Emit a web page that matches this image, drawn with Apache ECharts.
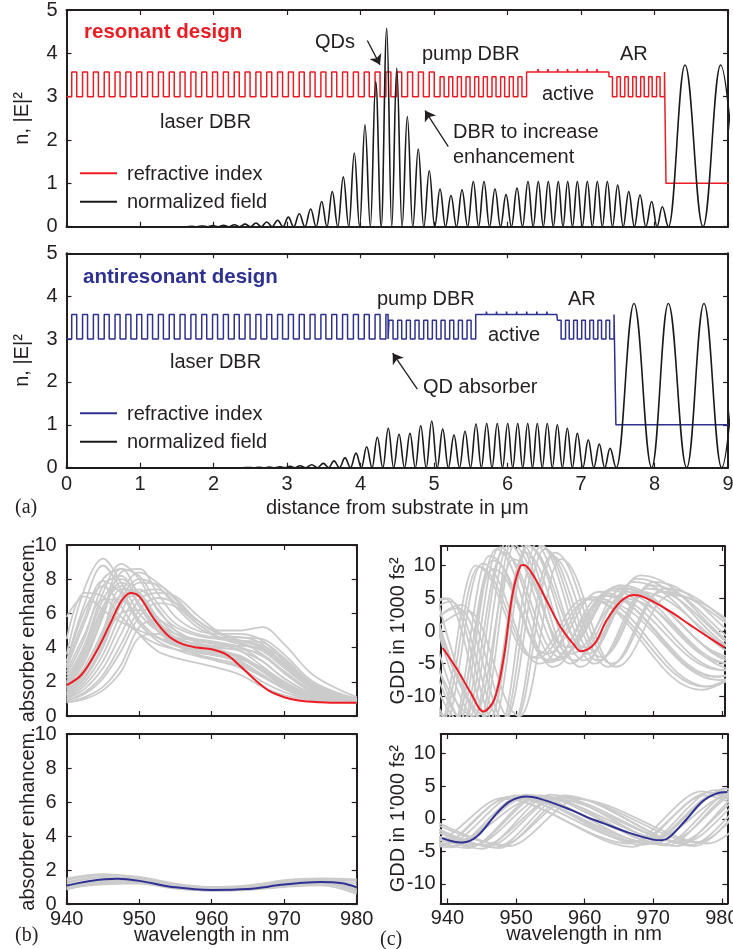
<!DOCTYPE html>
<html><head><meta charset="utf-8">
<script src="https://cdn.jsdelivr.net/npm/echarts@6/dist/echarts.min.js"></script>
<style>html,body{margin:0;padding:0;background:#fff}#c{width:733px;height:949px}</style>
</head><body><div id="c"></div><script>
// ---------------- (a) layer stacks: [repeat, [thickness in µm, refractive index], ...] ----------------
const resStack = [
  [1, [0.071, 3.00]],
  [34, [0.068, 3.57], [0.0794, 3.00]],
  [10, [0.055, 3.46], [0.0627, 3.00]],
  [1, [0.155, 3.57]],
  [7, [0.008, 3.64], [0.1255, 3.57]],
  [1, [0.031, 3.57]],
  [7, [0.048, 3.46], [0.060, 3.00]],
  [1, [0.020, 3.57]],
  [1, [1.500, 1.00]]
];
const antiStack = [
  [1, [0.071, 3.00]],
  [29, [0.068, 3.57], [0.0794, 3.00]],
  [1, [0.030, 3.57], [0.012, 3.00]],
  [10, [0.055, 3.44], [0.063, 3.00]],
  [1, [0.145, 3.57]],
  [7, [0.008, 3.64], [0.129, 3.57]],
  [1, [0.008, 3.57]],
  [7, [0.050, 3.44], [0.060, 3.00]],
  [1, [0.025, 3.57]],
  [1, [2.000, 1.00]]
];
// field |E|^2 : maxima and zeros
const resPeakX = [1.699,1.845,1.991,2.137,2.283,2.429,2.578,2.724,2.873,3.018,3.167,3.322,3.472,3.616,3.766,3.916,4.061,4.207,4.357,4.493,4.637,4.786,4.936,5.082,5.231,5.381,5.535,5.680,5.830,5.980,6.129,6.279,6.419,6.555,6.691,6.819,6.950,7.086,7.222,7.358,7.499,7.649,7.803,7.962,8.106,8.415,8.900];
const resPeakY = [0.012,0.017,0.024,0.033,0.045,0.06,0.085,0.11,0.15,0.22,0.30,0.41,0.58,0.81,1.15,1.70,2.35,3.35,4.58,3.66,2.54,1.79,1.29,0.87,0.72,0.85,1.04,1.04,0.87,0.74,0.89,1.04,1.04,1.04,1.04,1.04,1.04,1.04,1.04,1.04,0.96,0.81,0.73,0.58,0.46,3.73,3.73];
const resZeroX = [0,1.626,1.772,1.918,2.064,2.210,2.356,2.503,2.651,2.798,2.945,3.092,3.244,3.397,3.544,3.691,3.841,3.988,4.134,4.282,4.425,4.565,4.711,4.861,5.009,5.156,5.306,5.458,5.607,5.755,5.905,6.054,6.204,6.349,6.487,6.623,6.755,6.884,7.018,7.154,7.290,7.428,7.574,7.726,7.882,8.034,8.190,8.660,9.140];
const antiPeakX = [2.47,2.62,2.76,2.905,3.041,3.177,3.336,3.494,3.639,3.789,3.939,4.084,4.229,4.378,4.524,4.673,4.819,4.969,5.118,5.272,5.422,5.571,5.717,5.861,6.003,6.139,6.275,6.405,6.541,6.678,6.814,6.950,7.099,7.249,7.395,7.721,8.188,8.673,9.150];
const antiPeakY = [0.005,0.008,0.013,0.02,0.03,0.045,0.07,0.10,0.16,0.23,0.34,0.49,0.71,0.92,0.78,0.80,0.98,1.09,0.90,0.76,0.85,1.02,1.03,1.03,1.03,1.03,1.03,1.03,1.03,1.0,0.92,0.80,0.65,0.55,0.45,3.83,3.83,3.83,3.83];
const antiZeroX = [0,2.40,2.545,2.69,2.833,2.973,3.109,3.257,3.415,3.567,3.714,3.864,4.012,4.157,4.304,4.451,4.599,4.746,4.894,5.044,5.195,5.347,5.497,5.644,5.789,5.932,6.071,6.207,6.340,6.473,6.610,6.746,6.882,7.025,7.174,7.322,7.480,7.962,8.438,8.914];

// ---------------- (b) absorber enhancement ----------------
const absRedWl = [940,942,944,946,947.5,948.8,950,952,954,956,958,960,962,964,966,968,970,972,975,978,980];
const absRed   = [1.8,2.4,3.7,5.4,6.7,7.2,7.0,5.7,4.7,4.2,4.0,3.9,3.6,2.9,2.1,1.45,1.1,0.9,0.8,0.77,0.77];
const absGrayWl = [940,942.5,945,947.5,950,952.5,955,958,961,964,967,970,974,980];
const absGrayRes = [
  [5.8,7.0,6.2,5.5,5.0,4.6,4.3,4.1,3.9,3.4,2.6,1.8,1.1,0.85],
  [3.6,7.5,9.2,7.8,6.0,5.0,4.6,4.4,4.2,3.8,2.9,2.0,1.2,0.9],
  [2.8,5.5,8.0,8.6,7.0,5.5,4.8,4.5,4.3,4.0,3.2,2.2,1.3,0.9],
  [2.2,4.2,7.2,8.9,8.0,6.2,5.2,4.7,4.5,4.3,3.6,2.5,1.4,0.95],
  [1.6,3.2,5.8,8.4,8.6,7.2,5.8,5.0,4.8,4.8,4.4,3.2,1.8,1.0],
  [1.3,2.5,4.6,7.2,8.4,7.8,6.8,5.6,5.0,5.0,5.2,4.2,2.4,1.1],
  [1.1,2.0,3.6,6.0,7.8,7.7,6.9,5.6,4.8,4.6,4.5,3.6,2.0,1.0],
  [1.0,1.6,2.8,4.8,6.8,7.2,7.0,5.9,4.9,4.4,4.0,3.1,1.7,1.0],
  [0.9,1.3,2.2,3.8,5.8,6.6,6.4,5.4,4.6,4.2,3.8,2.8,1.6,0.95],
  [0.8,1.1,1.7,3.0,5.2,5.6,5.0,4.3,3.8,3.4,2.8,2.0,1.2,0.85],
  [0.8,1.0,1.5,2.6,4.6,4.8,4.2,3.6,3.2,2.9,2.3,1.6,1.0,0.8],
  [2.6,4.8,6.8,6.8,5.4,4.4,3.9,3.5,3.2,2.8,2.0,1.4,0.95,0.8],
  [3.0,6.2,7.6,6.4,4.8,3.8,3.4,3.1,2.8,2.4,1.7,1.2,0.9,0.8],
  [1.9,3.8,6.4,7.6,6.6,5.0,4.2,3.9,3.7,3.4,2.6,1.7,1.1,0.85],
  [1.5,2.9,5.0,7.4,7.2,5.6,4.4,3.8,3.5,3.3,2.8,1.9,1.1,0.85],
  [1.2,2.2,4.0,6.5,7.4,6.3,5.0,4.3,4.0,3.9,3.6,2.6,1.4,0.9],
  [2.4,4.6,7.6,8.2,6.4,5.0,4.4,4.0,3.8,3.5,2.7,1.8,1.1,0.85],
  [1.4,2.6,4.4,6.0,6.2,5.2,4.2,3.6,3.3,3.0,2.4,1.6,1.0,0.8],
  [4.5,7.2,7.0,5.8,4.8,4.2,3.9,3.7,3.5,3.1,2.3,1.6,1.0,0.85],
  [3.2,6.6,8.8,7.4,5.6,4.6,4.2,4.0,3.8,3.5,2.7,1.9,1.2,0.9],
  [2.0,4.0,6.8,8.0,7.2,5.6,4.6,4.2,4.1,4.0,3.5,2.6,1.5,0.95],
  [1.7,3.4,6.0,8.6,8.2,6.6,5.4,4.8,4.6,4.6,4.2,3.0,1.7,1.0],
  [1.2,2.3,4.2,6.8,8.0,7.6,6.4,5.2,4.6,4.4,4.3,3.4,1.9,1.0],
  [1.0,1.8,3.2,5.4,7.2,7.4,6.6,5.4,4.6,4.2,3.9,3.0,1.7,0.95],
  [0.9,1.4,2.4,4.2,6.2,6.9,6.6,5.6,4.8,4.4,4.1,3.3,1.8,1.0],
  [2.9,5.8,7.9,7.2,5.6,4.6,4.1,3.8,3.6,3.2,2.4,1.6,1.0,0.8],
  [1.8,3.6,6.2,7.8,7.0,5.4,4.5,4.2,4.0,3.8,3.2,2.2,1.3,0.9],
  [1.3,2.6,4.8,7.0,7.0,5.8,4.8,4.4,4.2,4.1,3.9,2.9,1.6,0.95]
];
const absBlueWl = [940,943,947,950,955,960,965,970,975,978,980];
const absBlue   = [1.08,1.34,1.48,1.36,0.98,0.83,0.88,1.14,1.29,1.22,0.98];
const absGrayAntiWl = [940,945,950,955,960,965,970,975,980];
const absGrayAnti = [
  [1.4,1.7,1.6,1.2,1.0,1.1,1.35,1.45,1.35],
  [1.3,1.6,1.5,1.15,0.95,1.05,1.3,1.4,1.2],
  [1.2,1.55,1.45,1.1,0.9,1.0,1.25,1.35,1.05],
  [1.0,1.4,1.35,1.0,0.85,0.9,1.15,1.25,0.9],
  [0.9,1.3,1.3,0.95,0.8,0.85,1.05,1.2,0.75],
  [0.85,1.2,1.2,0.9,0.78,0.82,1.0,1.1,0.6],
  [1.5,1.75,1.55,1.15,0.95,1.05,1.4,1.5,1.45],
  [1.1,1.25,1.4,1.05,0.85,0.95,1.2,1.3,0.8],
  [0.95,1.15,1.25,0.95,0.8,0.9,1.1,1.2,0.7]
];

// ---------------- (c) GDD in 1'000 fs^2 ----------------
const gddRedWl = [939.3,941.4,943.4,945.2,946.8,948.2,949.4,950.6,951.1,952.6,954.5,956.4,958.4,959.4,961.3,963.2,965.2,967.1,969.0,972.4,975.3,978.2,980.3];
const gddRed   = [-2.6,-5.9,-9.5,-12.3,-10.5,-3.9,5.3,9.95,10.1,8.3,4.5,0.7,-2.1,-3.1,-2.1,1.7,4.5,5.5,5.0,3.0,0.94,-1.1,-2.5];
// grey curves given by their turning points [wavelength, GDD]
const gddGrayRes = [
  [[929,5],[938.2,-16],[944.1,10.0],[952.4,-4.0],[960.1,5.0],[977,-9.0],[990,4]],
  [[930,5],[939.2,-15],[945.1,10.3],[953.4,-5.0],[961.1,5.2],[978,-8.5],[991,4]],
  [[931,4],[940.2,-16],[946.1,11.5],[954.4,-3.5],[962.1,6.0],[979,-7],[992,3]],
  [[932,5],[941.2,-15],[947.1,12.5],[955.4,-5.5],[963.1,5.5],[980,-6],[993,3]],
  [[934,5],[942.2,-14],[948.1,12.0],[956.4,-4.0],[964.1,6.5],[981,-5],[994,3]],
  [[936,5],[943.2,-15],[949.1,13.5],[957.4,-2.5],[965.1,7.0],[982,-4],[995,3]],
  [[937,6.5],[944.7,-14],[950.1,14],[958.4,-4.5],[966.1,6.0],[983,-5],[996,3]],
  [[937.5,4],[945.6,-13],[951.3,12],[959.4,-5.5],[967.1,7.5],[984,-4],[997,3]],
  [[938.5,5],[946.2,-15],[952.1,14],[960.4,-3.5],[968.1,8.5],[985,-3],[998,3]],
  [[932,-3],[939.5,5],[947.2,-16],[953.1,13.5],[961.4,-5.0],[969.1,6.5],[986,-4],[999,3]],
  [[933,-3],[940.5,4.5],[948.2,-14],[954.1,12.5],[962.4,-4.0],[970.1,7.5],[987,-3],[1000,3]],
  [[934,-3],[941.5,3.5],[949.2,-15],[955.1,11.5],[963.4,-5.5],[971.1,6.0],[988,-2],[1001,3]],
  [[935,4],[943.8,-13],[949.6,11],[957.9,-3.5],[965.6,5.0],[982.5,-6],[995,3]],
  [[938,3],[945.8,-14],[951.7,13],[960.0,-2.5],[967.8,6.0],[984.5,-3.5],[997,3]],
  [[932.5,3],[940.8,-14],[946.6,9.5],[954.9,-4.5],[962.6,4.5],[979.5,-7.5],[992,3]],
  [[929.5,4],[938.7,-15],[944.6,9.8],[952.9,-4.2],[960.6,4.8],[977.5,-8.5],[990,3]],
  [[931.5,5],[940.7,-15],[946.6,10.8],[954.9,-4.8],[962.6,5.4],[979.5,-7],[992,3]],
  [[933,4],[941.7,-15],[947.6,12.8],[955.9,-4.5],[963.6,6.2],[980.5,-6],[993,3]],
  [[935,5],[942.7,-14],[948.6,13.5],[956.9,-3.5],[964.6,6.8],[981.5,-5],[994,3]],
  [[936.5,5.5],[944.2,-15],[949.6,14],[957.9,-5],[965.6,6.5],[982.5,-4.5],[995,3]],
  [[937.8,4.5],[945.9,-14],[951.6,13],[959.9,-4.5],[967.6,8.0],[984.5,-3.5],[997,3]],
  [[932.5,-3],[940,5],[947.7,-15],[953.6,13],[961.9,-4.5],[969.6,7],[986.5,-3.5],[999,3]],
  [[934.5,-3],[942,4],[949.7,-14],[955.6,12],[963.9,-5],[971.6,6.5],[988.5,-2.5],[1001,3]],
  [[936,-2],[943,3],[950.5,-13],[956.5,11],[964.5,-5.5],[972.5,5.5],[989,-2],[1002,3]]
];
const gddBlueWl = [939.2,940.5,942.2,944.3,947.2,949.1,951.5,954,957.9,960.3,962.7,966.6,970,971.2,972.4,974.8,977.2,979.2,980.8];
const gddBlue   = [-2.97,-3.4,-3.64,-2.7,0.87,2.67,3.4,2.9,1.4,0.26,-0.67,-2.2,-3.2,-3.3,-2.8,-0.15,2.67,3.85,4.1];
const gddGrayAnti = [
  [[921,3],[938,-3.5],[948,3.2],[966.5,-3.8],[977,4.2],[990,-3]],
  [[922,3],[939,-4.0],[949,3.4],[967.5,-3.5],[978,4.0],[991,-3]],
  [[923,3],[940,-3.8],[950,3.6],[968.5,-4.0],[979,4.4],[992,-3]],
  [[924,3],[941,-4.2],[951,3.0],[969.5,-3.6],[980,4.2],[993,-3]],
  [[926,3],[943,-4.5],[953,3.5],[971.5,-3.9],[982,4.5],[995,-3]],
  [[927,3],[944,-4.0],[954,3.2],[972.5,-3.4],[983,4.3],[996,-3]],
  [[928,3],[945,-4.6],[955,3.7],[973.5,-4.2],[984,4.5],[997,-3]],
  [[929,3],[946,-4.2],[956,3.3],[974.5,-3.7],[985,4.0],[998,-3]],
  [[930,3],[947,-4.4],[957,3.6],[975.5,-4.0],[986,4.2],[999,-3]],
  [[931,3],[948,-4.0],[958,3.2],[976.5,-3.6],[987,4.0],[1000,-3]],
  [[925,2],[942,-3.2],[952,2.8],[970.5,-3.0],[981,3.6],[994,-3]],
  [[921.5,3],[938.5,-4.3],[948.5,3.0],[967,-4.3],[977.5,3.6],[990,-3]],
  [[932,3],[949,-4.2],[959,3.0],[978,-3.8],[989,4],[1002,-3]],
  [[923.5,3],[940.5,-4.4],[950.5,3.3],[969,-3.8],[979.5,4.0],[992,-3]],
  [[926.5,3],[943.5,-4.2],[953.5,3.6],[972,-4.1],[982.5,4.4],[995,-3]],
  [[928.5,3],[945.5,-4.0],[955.5,3.1],[974,-3.5],[984.5,4.3],[997,-3]],
  [[930.5,3],[947.5,-4.5],[957.5,3.4],[976,-4.2],[986.5,4.1],[999,-3]],
  [[924.5,3],[941.5,-3.6],[951.5,3.7],[970,-3.9],[980.5,4.6],[993,-3]]
];

// tick label values
const distTicks = [0,1,2,3,4,5,6,7,8,9];
const nTicks = [0,1,2,3,4,5];
const wlTicks = [940,950,960,970,980];
const absTicks = [0,2,4,6,8,10];
const gddTicks = [-10,-5,0,5,10];

// ---------------- helpers ----------------
const TXT = '#231f20', RED = '#ed1c24', BLUE = '#2e3192', GRAY = '#cbcbcb', FIELD = '#1a1a1a';
const FF = '"Liberation Sans", Arial, sans-serif';

function stackPoints(stack) {
  let x = 0; const pts = [];
  stack.forEach(g => {
    for (let r = 0; r < g[0]; r++) {
      for (let k = 1; k < g.length; k++) { pts.push([x, g[k][1]]); x += g[k][0]; }
    }
  });
  pts.push([x, pts[pts.length - 1][1]]);
  return pts;
}
function fieldPoints(px, py, zx) {
  const pts = zx.map(x => [x, 0]);
  px.forEach((x, i) => pts.push([x, py[i]]));
  pts.sort((a, b) => a[0] - b[0]);
  return pts;
}
const zip = (xs, ys) => xs.map((x, i) => [x, ys[i]]);

function ax(o) {
  const labDef = {show: false, color: TXT, fontSize: 20, fontFamily: FF};
  const tickDef = {show: true, inside: true, length: 5, lineStyle: {color: TXT, width: 1.2}};
  const r = Object.assign({
    type: 'value', splitLine: {show: false},
    axisLine: {show: true, onZero: false, lineStyle: {color: TXT, width: 2}},
    nameTextStyle: {color: TXT, fontSize: 20, fontFamily: FF},
    nameLocation: 'middle', nameMoveOverlap: false
  }, o);
  r.axisLabel = Object.assign({}, labDef, o.axisLabel || {});
  r.axisTick = Object.assign({}, tickDef, o.axisTick || {});
  return r;
}
function ln(xi, data, color, width, extra) {
  return Object.assign({
    type: 'line', xAxisIndex: xi, yAxisIndex: xi, data: data, symbol: 'none', showSymbol: false,
    lineStyle: {color: color, width: width}, itemStyle: {color: color}, silent: true, animation: false, clip: true
  }, extra || {});
}
function arrows(list) {
  return {
    silent: true, animation: false, symbol: ['none', 'arrow'], symbolSize: 10,
    label: {show: false}, lineStyle: {color: TXT, width: 1.3, type: 'solid'},
    emphasis: {disabled: true},
    data: list.map(a => [{coord: a[0]}, {coord: a[1]}])
  };
}

const grids = [
  {left: 66.5, top: 10, width: 661.5, height: 216.7},
  {left: 66.5, top: 253.3, width: 661.5, height: 214.4},
  {left: 66.7, top: 545, width: 290, height: 171},
  {left: 66.7, top: 734, width: 290, height: 170},
  {left: 440.7, top: 546, width: 283.6, height: 170},
  {left: 440.7, top: 734, width: 286.6, height: 169.5}
].map(g => Object.assign({containLabel: false, outerBoundsMode: 'none'}, g));

const xCfg = [
  {min: 0, max: 9, interval: 1},
  {min: 0, max: 9, interval: 1, lab: {margin: 7, customValues: distTicks}, name: 'distance from substrate in μm', nameGap: 31},
  {min: 940, max: 980, interval: 10},
  {min: 940, max: 980, interval: 10, lab: {margin: 5, customValues: wlTicks}, name: 'wavelength in nm', nameGap: 21},
  {min: 939, max: 980.3, custom: wlTicks},
  {min: 939, max: 980.8, custom: wlTicks, lab: {margin: 5}, name: 'wavelength in nm', nameGap: 21}
];
const yCfg = [
  {min: 0, max: 5, interval: 1, lab: {margin: 9, customValues: nTicks}, name: 'n, |E|²', nameGap: 34},
  {min: 0, max: 5, interval: 1, lab: {margin: 9, customValues: nTicks}, name: 'n, |E|²', nameGap: 34},
  {min: 0, max: 10, interval: 2, lab: {margin: 10, customValues: absTicks}, name: 'absorber enhancem.', nameGap: 28},
  {min: 0, max: 10, interval: 2, lab: {margin: 10, customValues: absTicks}, name: 'absorber enhancem.', nameGap: 28},
  {min: -13, max: 13, custom: gddTicks, lab: {margin: 5}, name: "GDD in 1'000 fs²", nameGap: 32},
  {min: -13, max: 13, custom: gddTicks, lab: {margin: 5}, name: "GDD in 1'000 fs²", nameGap: 32}
];
function mkAxes(cfg, mainPos, secPos) {
  const main = [], sec = [];
  cfg.forEach((c, i) => {
    const common = {gridIndex: i, min: c.min, max: c.max};
    if (c.interval) common.interval = c.interval;
    const tick = c.custom ? {customValues: c.custom} : {};
    const lab = c.lab ? Object.assign({show: true}, c.lab, c.custom ? {customValues: c.custom} : {}) : {show: false};
    main.push(ax(Object.assign({}, common, {position: mainPos, axisTick: tick, axisLabel: lab,
      name: c.name || '', nameGap: c.nameGap || 0})));
    sec.push(ax(Object.assign({}, common, {position: secPos, axisTick: tick, axisLabel: {show: false}})));
  });
  return main.concat(sec);
}

const series = [];
// (a) resonant
series.push(ln(0, stackPoints(resStack), RED, 1.5, {step: 'end'}));
series.push(ln(0, fieldPoints(resPeakX, resPeakY, resZeroX), FIELD, 1.6, {smooth: 0.4, smoothMonotone: 'x',
  markLine: arrows([[[4.093, 4.296], [4.265, 3.734]], [[5.194, 1.848], [4.878, 2.679]]])}));
// (a) antiresonant
series.push(ln(1, stackPoints(antiStack), BLUE, 1.5, {step: 'end'}));
series.push(ln(1, fieldPoints(antiPeakX, antiPeakY, antiZeroX), FIELD, 1.6, {smooth: 0.4, smoothMonotone: 'x',
  markLine: arrows([[[4.773, 1.83], [4.438, 2.67]]])}));
// (b)
absGrayRes.forEach(c => series.push(ln(2, zip(absGrayWl, c), GRAY, 1.8, {smooth: 0.35})));
series.push(ln(2, zip(absRedWl, absRed), RED, 2, {smooth: 0.35}));
absGrayAnti.forEach(c => series.push(ln(3, zip(absGrayAntiWl, c), GRAY, 1.8, {smooth: 0.35})));
series.push(ln(3, zip(absBlueWl, absBlue), BLUE, 2, {smooth: 0.35}));
// (c)
gddGrayRes.forEach(c => series.push(ln(4, c, GRAY, 1.8, {smooth: 0.4, smoothMonotone: 'x'})));
series.push(ln(4, zip(gddRedWl, gddRed), RED, 2, {smooth: 0.35}));
gddGrayAnti.forEach(c => series.push(ln(5, c, GRAY, 1.8, {smooth: 0.3, smoothMonotone: 'x'})));
series.push(ln(5, zip(gddBlueWl, gddBlue), BLUE, 2, {smooth: 0.35}));

function T(text, x, y, o) {
  return {type: 'text', x: x, y: y, silent: true, style: Object.assign({text: text, fill: TXT, fontSize: 20,
    fontFamily: FF, align: 'left', verticalAlign: 'middle'}, o || {})};
}
function L(x1, x2, y, color) {
  return {type: 'line', silent: true, shape: {x1: x1, y1: y, x2: x2, y2: y}, style: {stroke: color, lineWidth: 2}};
}
const graphic = [
  T('resonant design', 84, 32.5, {fill: RED, fontWeight: 'bold', fontSize: 20.5}),
  T('QDs', 315, 42), T('pump DBR', 422, 54), T('AR', 620, 54), T('active', 542, 94),
  T('laser DBR', 160, 122.5), T('DBR to increase', 453, 132.5), T('enhancement', 453, 157.5),
  L(80, 117, 173.3, RED), T('refractive index', 127, 174),
  L(80, 117, 201.7, FIELD), T('normalized field', 127, 202.5),
  T('antiresonant design', 83, 277.5, {fill: BLUE, fontWeight: 'bold', fontSize: 20.5}),
  T('pump DBR', 377, 299), T('AR', 568, 299), T('active', 488, 335),
  T('laser DBR', 170, 362.5), T('QD absorber', 423, 387.5),
  L(80, 117, 413.3, BLUE), T('refractive index', 127, 414),
  L(80, 117, 441.7, FIELD), T('normalized field', 127, 442.5),
  T('(a)', 15, 508, {fontFamily: '"Liberation Serif", "DejaVu Serif", serif'}),
  T('(b)', 15, 936, {fontFamily: '"Liberation Serif", "DejaVu Serif", serif'}),
  T('(c)', 380, 940, {fontFamily: '"Liberation Serif", "DejaVu Serif", serif'})
];

const chart = echarts.init(document.getElementById('c'), null, {renderer: 'canvas'});
chart.setOption({
  animation: false,
  backgroundColor: '#ffffff',
  grid: grids,
  xAxis: mkAxes(xCfg, 'bottom', 'top'),
  yAxis: mkAxes(yCfg, 'left', 'right'),
  series: series,
  graphic: graphic
});
</script></body></html>
